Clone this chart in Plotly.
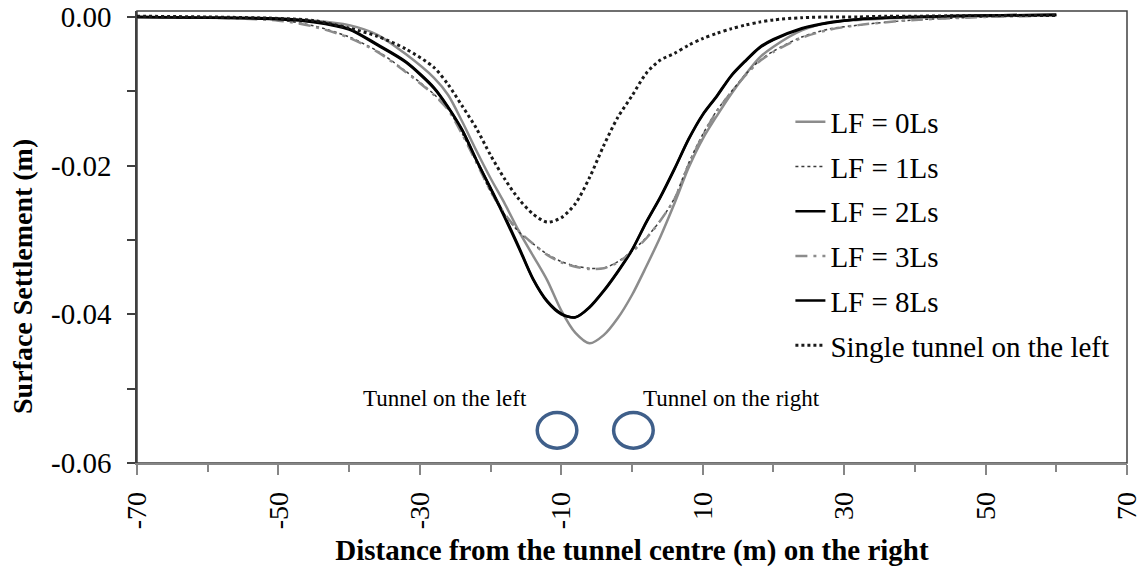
import plotly.graph_objects as go

# ---------------- data ----------------
distance = [-70, -60, -50, -45, -40, -36, -32, -28, -26, -24, -22, -20, -18, -16, -14, -12, -10,
            -8, -6, -4, -2, 0, 2, 4, 6, 8, 10, 12, 14, 16, 18, 20, 24, 28, 32, 36, 40, 50, 60]

lf_0ls = [0.0000, -0.0001, -0.0003, -0.0005, -0.0011, -0.0024, -0.0050, -0.0082, -0.0105, -0.0141,
          -0.0180, -0.0217, -0.0251, -0.0288, -0.0321, -0.0354, -0.0395, -0.0425, -0.0439, -0.0428,
          -0.0405, -0.0374, -0.0336, -0.0296, -0.0251, -0.0203, -0.0164, -0.0133, -0.0104, -0.0078,
          -0.0055, -0.0040, -0.0018, -0.0007, -0.0004, -0.0002, -0.0001, 0.0001, 0.0002]

lf_1ls = [0.0000, -0.0001, -0.0004, -0.0012, -0.0027, -0.0046, -0.0073, -0.0104, -0.0124, -0.0157,
          -0.0195, -0.0235, -0.0266, -0.0289, -0.0305, -0.0319, -0.0329, -0.0335, -0.0338, -0.0338,
          -0.0329, -0.0315, -0.0297, -0.0274, -0.0244, -0.0197, -0.0158, -0.0126, -0.0101, -0.0078,
          -0.0059, -0.0046, -0.0027, -0.0016, -0.0011, -0.0007, -0.0004, 0.0000, 0.0002]

lf_2ls = [0.0000, -0.0001, -0.0002, -0.0006, -0.0016, -0.0037, -0.0060, -0.0095, -0.0121, -0.0152,
          -0.0192, -0.0230, -0.0268, -0.0309, -0.0352, -0.0382, -0.0399, -0.0404, -0.0390, -0.0368,
          -0.0342, -0.0313, -0.0276, -0.0242, -0.0204, -0.0164, -0.0131, -0.0106, -0.0079, -0.0059,
          -0.0041, -0.0030, -0.0015, -0.0007, -0.0003, -0.0001, 0.0000, 0.0002, 0.0003]

lf_3ls = [0.0000, -0.0001, -0.0005, -0.0013, -0.0028, -0.0047, -0.0074, -0.0105, -0.0125, -0.0158,
          -0.0196, -0.0234, -0.0265, -0.0288, -0.0305, -0.0320, -0.0330, -0.0336, -0.0339, -0.0338,
          -0.0330, -0.0316, -0.0298, -0.0274, -0.0245, -0.0199, -0.0160, -0.0127, -0.0102, -0.0079,
          -0.0060, -0.0047, -0.0028, -0.0017, -0.0011, -0.0007, -0.0004, 0.0000, 0.0002]

lf_8ls = [0.0000, -0.0001, -0.0003, -0.0007, -0.0017, -0.0038, -0.0061, -0.0096, -0.0122, -0.0153,
          -0.0193, -0.0231, -0.0270, -0.0311, -0.0353, -0.0383, -0.0400, -0.0404, -0.0391, -0.0369,
          -0.0343, -0.0314, -0.0277, -0.0243, -0.0205, -0.0165, -0.0132, -0.0107, -0.0080, -0.0060,
          -0.0042, -0.0031, -0.0016, -0.0008, -0.0003, -0.0001, 0.0000, 0.0002, 0.0003]

single_left = [0.0001, 0.0000, -0.0002, -0.0005, -0.0015, -0.0026, -0.0043, -0.0068, -0.0091, -0.0120,
               -0.0150, -0.0186, -0.0218, -0.0245, -0.0265, -0.0276, -0.0270, -0.0251, -0.0216, -0.0173,
               -0.0135, -0.0106, -0.0076, -0.0058, -0.0049, -0.0038, -0.0029, -0.0022, -0.0016, -0.0011,
               -0.0007, -0.0004, -0.0001, 0.0000, 0.0000, 0.0001, 0.0001, 0.0002, 0.0002]

series_names = ["LF = 0Ls", "LF = 1Ls", "LF = 2Ls", "LF = 3Ls", "LF = 8Ls", "Single tunnel on the left"]

x_tick_values = [-70, -50, -30, -10, 10, 30, 50, 70]
x_minor_ticks = [-60, -40, -20, 0, 20, 40, 60]
y_tick_values = [0.0, -0.02, -0.04, -0.06]
y_tick_labels = ["0.00", "-0.02", "-0.04", "-0.06"]
y_minor_ticks = [-0.01, -0.03, -0.05]

x_title = "Distance from the tunnel centre (m) on the right"
y_title = "Surface Settlement (m)"

tunnel_labels = ["Tunnel on the left", "Tunnel on the right"]
tunnel_label_x = [-26.4, 14.1]
tunnel_label_y = [-0.0513, -0.0513]
tunnel_centre_x = [-10.6, 0.2]
tunnel_centre_y = [-0.0556, -0.0556]
tunnel_radius_x = 2.8
tunnel_radius_y = 0.0024

# ---------------- figure ----------------
FONT = "Times New Roman, Liberation Serif, serif"

series_values = [lf_0ls, lf_1ls, lf_2ls, lf_3ls, lf_8ls, single_left]
styles = [
    dict(color="#8c8c8c", width=2.5, dash="solid"),
    dict(color="#3a3a3a", width=1.5, dash="dot"),
    dict(color="#000000", width=2.5, dash="solid"),
    dict(color="#8c8c8c", width=2.5, dash="12px,6px,3px,6px"),
    dict(color="#000000", width=2.5, dash="solid"),
    dict(color="#1a1a1a", width=3, dash="dot"),
]

fig = go.Figure()
for i, (name, vals, st) in enumerate(zip(series_names, series_values, styles)):
    fig.add_trace(go.Scatter(
        x=distance, y=vals, mode="lines", name=name,
        line=dict(shape="spline", smoothing=0.8, **st),
        legendgroup=f"g{i}",
    ))

for cx, cy in zip(tunnel_centre_x, tunnel_centre_y):
    fig.add_shape(type="circle", xref="x", yref="y",
                  x0=cx - tunnel_radius_x, x1=cx + tunnel_radius_x,
                  y0=cy - tunnel_radius_y, y1=cy + tunnel_radius_y,
                  line=dict(color="#3f5f8a", width=3.5), fillcolor="rgba(0,0,0,0)")

for txt, tx, ty in zip(tunnel_labels, tunnel_label_x, tunnel_label_y):
    fig.add_annotation(x=tx, y=ty, xref="x", yref="y", text=txt, showarrow=False,
                       font=dict(family=FONT, size=23, color="black"))

# y-axis title (placed slightly below the axis centre, as in the original)
fig.add_annotation(x=-0.1162, y=0.4137, xref="paper", yref="paper", xanchor="center", yanchor="middle",
                   text=f"<b>{y_title}</b>", textangle=-90, showarrow=False,
                   font=dict(family=FONT, size=28, color="black"))

# plot-area frame
fig.add_shape(type="rect", xref="paper", yref="paper", x0=0, x1=1, y0=0, y1=1,
              line=dict(color="#404040", width=1.5), layer="below")

fig.update_layout(
    width=1143, height=572,
    margin=dict(l=137, r=16, t=11, b=109, autoexpand=False),
    paper_bgcolor="white", plot_bgcolor="white",
    font=dict(family=FONT, size=28, color="black"),
    showlegend=True,
    legend=dict(x=0.66, y=0.811, xanchor="left", yanchor="top",
                font=dict(family=FONT, size=29), tracegroupgap=4,
                bgcolor="rgba(0,0,0,0)", borderwidth=0),
    xaxis=dict(range=[-70, 70], tickvals=x_tick_values, ticktext=[str(v) for v in x_tick_values],
               tickangle=-90, showgrid=False, zeroline=False, automargin=False,
               showline=True, linecolor="#868686", linewidth=1.5,
               ticks="outside", ticklen=10, tickcolor="#868686", tickwidth=1.5,
               ticklabelstandoff=6,
               minor=dict(tickvals=x_minor_ticks, ticks="outside", ticklen=7,
                          tickcolor="#868686", tickwidth=1.5),
               tickfont=dict(size=28),
               title=dict(text=f"<b>{x_title}</b>", font=dict(size=29), standoff=11)),
    yaxis=dict(range=[-0.06, 0.0008], tickvals=y_tick_values, ticktext=y_tick_labels,
               showgrid=False, zeroline=False, automargin=False,
               showline=True, linecolor="#404040", linewidth=1.5,
               ticks="outside", ticklen=8, tickcolor="#404040", tickwidth=1.5,
               ticklabelstandoff=10, ticklabeloverflow="allow",
               minor=dict(tickvals=y_minor_ticks, ticks="outside", ticklen=8,
                          tickcolor="#404040", tickwidth=1.5),
               tickfont=dict(size=29)),
)

# remove the default 8px page margin so the figure fills the window exactly
fig.write_html("out.html", config={"displayModeBar": False},
               post_script="document.body.style.margin='0px';")
